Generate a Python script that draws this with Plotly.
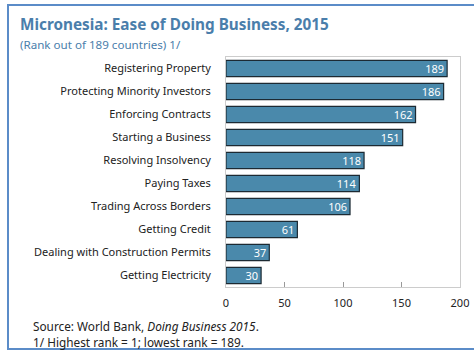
import plotly.graph_objects as go

categories = [
    "Registering Property",
    "Protecting Minority Investors",
    "Enforcing Contracts",
    "Starting a Business",
    "Resolving Insolvency",
    "Paying Taxes",
    "Trading Across Borders",
    "Getting Credit",
    "Dealing with Construction Permits",
    "Getting Electricity",
]
ranks = [189, 186, 162, 151, 118, 114, 106, 61, 37, 30]
x_ticks = [0, 50, 100, 150, 200]

W, H = 474, 350
L, R, T, B = 226, 14, 57, 63
FONT = "Noto Sans"


def px(x):
    return (x - L) / (W - L - R)


def py(y):
    return (H - B - y) / (H - T - B)


fig = go.Figure(
    go.Bar(
        x=ranks,
        y=categories,
        orientation="h",
        width=0.7,
        marker=dict(color="#4a89ab", line=dict(color="#1c2a33", width=1.2)),
        text=[str(v) for v in ranks],
        textposition="inside",
        insidetextanchor="end",
        textangle=0,
        constraintext="none",
        textfont=dict(color="white", size=11, family=FONT),
        cliponaxis=False,
    )
)

fig.update_layout(
    width=W,
    height=H,
    margin=dict(l=L, r=R, t=T, b=B),
    paper_bgcolor="white",
    plot_bgcolor="white",
    showlegend=False,
    font=dict(family=FONT, size=11, color="#222222"),
    xaxis=dict(
        range=[0, 200],
        tickvals=x_ticks,
        ticks="inside",
        ticklen=5,
        tickcolor="#999999",
        ticklabelstandoff=6,
        showgrid=False,
        zeroline=False,
        showline=True,
        linecolor="#cccccc",
        mirror=True,
        automargin=False,
        tickfont=dict(size=11, family=FONT),
        fixedrange=True,
    ),
    yaxis=dict(
        autorange="reversed",
        showgrid=False,
        zeroline=False,
        showline=True,
        linecolor="#cccccc",
        mirror=True,
        ticks="",
        ticklabelstandoff=12,
        automargin=False,
        tickfont=dict(size=11, family=FONT),
        fixedrange=True,
    ),
    shapes=[
        dict(
            type="rect",
            xref="paper",
            yref="paper",
            x0=px(8),
            x1=px(490),
            y0=py(349),
            y1=py(5),
            line=dict(color="#5b8cc8", width=2),
            fillcolor="rgba(0,0,0,0)",
            layer="below",
        )
    ],
    annotations=[
        dict(
            text="<b>Micronesia: Ease of Doing Business, 2015</b>",
            xref="paper", yref="paper",
            x=px(18), y=py(24), xanchor="left", yanchor="middle",
            showarrow=False,
            font=dict(size=15.3, color="#4a7eab", family=FONT),
        ),
        dict(
            text="(Rank out of 189 countries) 1/",
            xref="paper", yref="paper",
            x=px(18), y=py(44), xanchor="left", yanchor="middle",
            showarrow=False,
            font=dict(size=11.6, color="#4a7eab", family=FONT),
        ),
        dict(
            text="Source: World Bank, <i>Doing Business 2015</i>.",
            xref="paper", yref="paper",
            x=px(31), y=py(326), xanchor="left", yanchor="middle",
            showarrow=False,
            font=dict(size=11.8, color="#222222", family=FONT),
        ),
        dict(
            text="1/ Highest rank = 1; lowest rank = 189.",
            xref="paper", yref="paper",
            x=px(31), y=py(342), xanchor="left", yanchor="middle",
            showarrow=False,
            font=dict(size=11.8, color="#222222", family=FONT),
        ),
    ],
)

fig.write_html("out.html")
